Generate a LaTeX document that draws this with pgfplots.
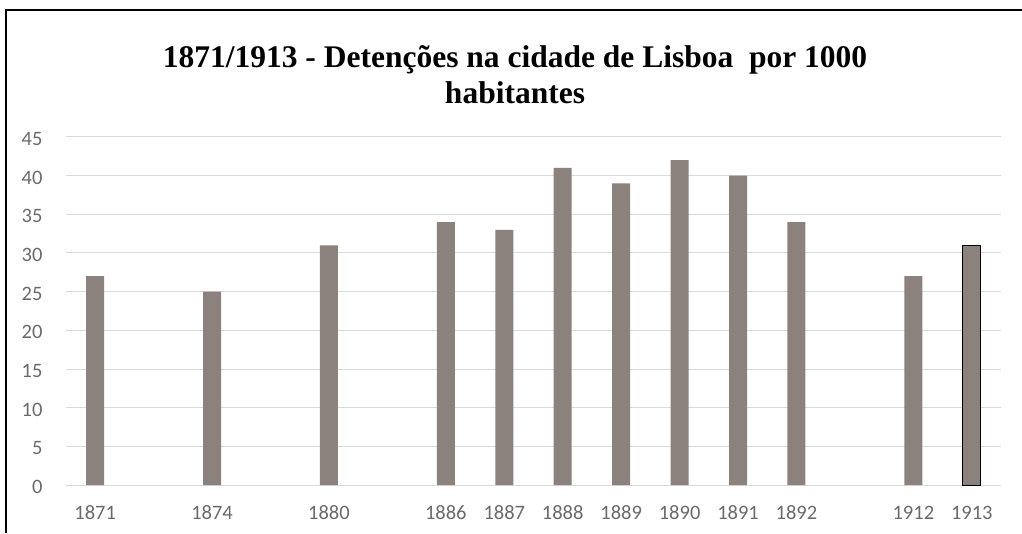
\documentclass[border=0pt]{standalone}
\usepackage{pgfplots}
\pgfplotsset{compat=1.18}
\usepackage{fontspec}
\setmainfont{Carlito}
\newfontfamily\titlefont{Liberation Serif}
\definecolor{barc}{HTML}{8B817D}
\definecolor{gridc}{HTML}{D9D9D9}
\definecolor{tickc}{HTML}{6A6A6A}
\begin{document}
\begin{tikzpicture}[x=1pt,y=1pt]
\path[use as bounding box] (0,0) rectangle (1022,533);
\draw[black,line width=1.5pt] (6,0) -- (6,523) -- (1022,523);
\node[font=\titlefont\bfseries\fontsize{31.5}{36}\selectfont,align=center] at (515,458) {1871/1913 - Detenções na cidade de Lisboa\ \ por 1000\\habitantes};
\begin{axis}[
  at={(66pt,48pt)}, anchor=south west,
  scale only axis, width=935pt, height=348pt,
  xmin=-0.5, xmax=15.5, ymin=0, ymax=45,
  axis line style={draw=none},
  ytick={0,5,...,45},
  xtick={0,2,4,6,7,8,9,10,11,12,14,15},
  xticklabels={1871,1874,1880,1886,1887,1888,1889,1890,1891,1892,1912,1913},
  ymajorgrids, grid style={gridc, line width=1pt},
  tick style={draw=none},
  /pgf/number format/assume math mode=true,
  ticklabel style={font=\fontsize{20.5}{24}\selectfont, text=tickc},
  yticklabel style={xshift=-20pt, yshift=-2pt},
  xticklabel style={yshift=-13pt},
  ybar, bar width=18pt, bar shift=0pt,
  clip=false,
]
\addplot[fill=barc, draw=none] coordinates {(0,27) (2,25) (4,31) (6,34) (7,33) (8,41) (9,39) (10,42) (11,40) (12,34) (14,27)};
\addplot[fill=barc, draw=black, line width=1pt] coordinates {(15,31)};
\end{axis}
\end{tikzpicture}
\end{document}
